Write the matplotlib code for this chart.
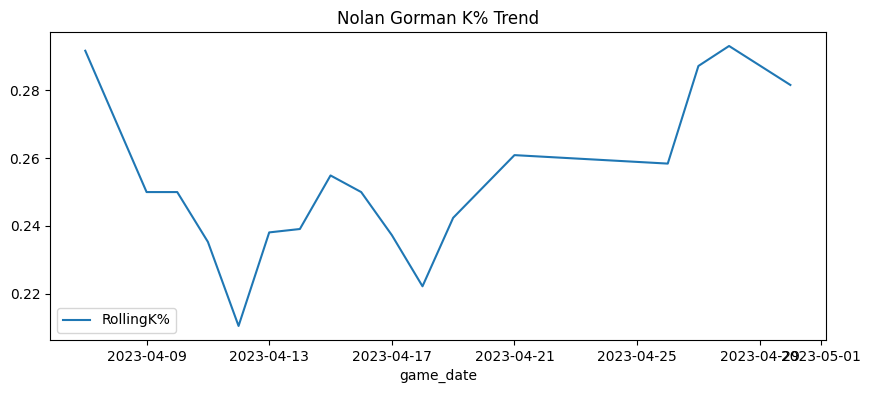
import numpy as np
import pandas as pd
import matplotlib
matplotlib.use("Agg")
import matplotlib.pyplot as plt

game_date = ["2023-04-07", "2023-04-09", "2023-04-10", "2023-04-11", "2023-04-12",
             "2023-04-13", "2023-04-14", "2023-04-15", "2023-04-16", "2023-04-17",
             "2023-04-18", "2023-04-19", "2023-04-21", "2023-04-26", "2023-04-27",
             "2023-04-28", "2023-04-30"]
rolling_k = [0.2917, 0.2500, 0.2500, 0.2353, 0.2105,
             0.2381, 0.2391, 0.2549, 0.2500, 0.2373,
             0.2222, 0.2424, 0.2609, 0.2584, 0.2872,
             0.2931, 0.2816]

df = pd.DataFrame({"game_date": pd.to_datetime(game_date), "RollingK%": rolling_k})

fig, ax = plt.subplots(figsize=(8.7, 3.93), dpi=100)
ax.plot(df["game_date"], df["RollingK%"], label="RollingK%")
ax.set_title("Nolan Gorman K% Trend")
ax.set_xlabel("game_date")
ax.legend(loc="lower left")
plt.subplots_adjust(left=0.0575, right=0.949, top=0.9186, bottom=0.135)
plt.savefig("out.png")
